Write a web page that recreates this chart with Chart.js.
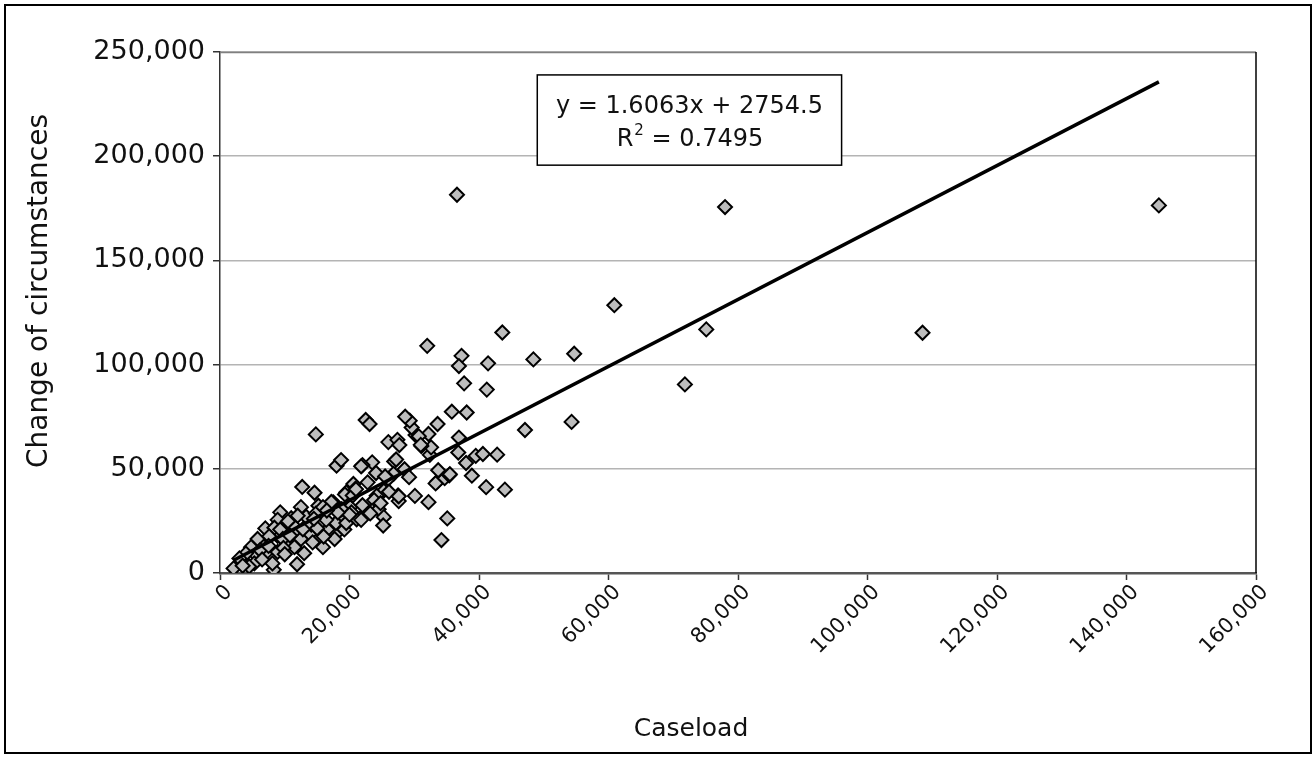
<!DOCTYPE html>
<html>
<head>
<meta charset="utf-8">
<title>Caseload vs change of circumstances</title>
<script src="https://cdn.jsdelivr.net/npm/chart.js@4.4.1/dist/chart.umd.min.js"></script>
<style>
  html, body { margin: 0; padding: 0; background: #fff; }
  #frame { position: absolute; left: 4px; top: 4px; width: 1304px; height: 746px; border: 2px solid #000; }
  #chart { position: absolute; left: 0; top: 0; }
</style>
</head>
<body>
<div id="frame"></div>
<canvas id="chart" width="1315" height="757"></canvas>
<script>
// caseload (x) and change of circumstances (y), one entry per office
var caseload = [
  145000, 78000, 36600, 75100, 108500, 71800, 60900, 43600, 54700, 48400,
  37300, 36900, 41400, 37700, 41200, 47100, 54300, 32000, 35800, 38100,
  36900, 38000, 39500, 40600, 42800, 36800, 41100, 44000, 38900, 35100,
  34200, 33600, 34700, 35400, 33700, 32200, 30100, 27600, 27500, 32400,
  32600, 31100, 32200, 33600, 30200, 29600, 29300, 28600, 22500, 23100,
  14800, 26000, 27400, 27700, 26900, 23500, 22000, 18000, 18700, 24100,
  28500, 26800, 26000, 25500, 27200, 22800, 20600, 20900, 19500, 25300,
  24200, 26100, 23800, 20100, 23500, 24500, 25300, 25200, 17500, 19100,
  22200, 22900, 21100, 17800, 17800, 18800, 23200, 12700, 14600, 15200,
  17300, 12500, 9300, 7000, 8900, 11900, 2100, 3800, 5600, 7000,
  8300, 8100, 5300, 4500, 6600, 8900, 10200, 11500, 11800, 13800,
  12500, 14300, 15900, 16600, 17700, 19200, 17900, 16400, 17200, 19300,
  20500, 21000, 20300, 21800, 22000, 13300, 11200, 14100, 11000, 8900,
  8400, 9300, 5800, 4800, 4000, 3000, 14800, 15900, 10500, 7600,
  9700, 21800, 13000, 35500, 33300, 27600, 30700, 31000, 6200, 7500,
  9800, 10800, 12800, 15000, 16000, 14500, 19500, 20000, 18200, 3500,
  6500, 10000, 24800, 29200, 16500, 12000
];
var circumstances = [
  176400, 175600, 181500, 116900, 115300, 90500, 128500, 115400, 105200, 102500,
  104200, 99300, 100600, 91000, 88000, 68600, 72500, 109000, 77400, 77000,
  65000, 52800, 56200, 57100, 56800, 57800, 41200, 40000, 46700, 26200,
  15800, 44000, 45500, 46900, 49300, 34000, 37000, 34500, 37200, 56700,
  60300, 60900, 66700, 71500, 66200, 69800, 73100, 75000, 73400, 71500,
  66500, 62800, 63900, 61400, 53500, 53100, 51800, 51500, 54200, 48000,
  49800, 47600, 45200, 46300, 54500, 43500, 42700, 40300, 38700, 39500,
  37100, 39000, 35000, 31600, 29800, 30600, 26800, 22800, 33900, 26600,
  27900, 29200, 25800, 23400, 18500, 30600, 28600, 41300, 38500, 32300,
  33700, 31600, 29100, 21400, 17800, 4200, 2200, 5400, 8500, 9300,
  1500, 4600, 4600, 3100, 13200, 10100, 14700, 12400, 19300, 18600,
  16300, 14700, 12400, 20900, 16300, 20900, 24000, 25500, 34100, 37700,
  37200, 40200, 29100, 25500, 32500, 27000, 23200, 23200, 26300, 25500,
  21700, 20900, 16300, 12400, 9300, 7000, 28500, 31600, 24800, 17600,
  16300, 51200, 9500, 47400, 43000, 36800, 65600, 61500, 11000, 13000,
  12000, 18000, 21000, 21500, 17500, 26000, 24000, 28000, 29000, 3500,
  6500, 9000, 33500, 46000, 30000, 27500
];

// linear trendline from the original workbook
var slope = 1.6063;
var intercept = 2754.5;
var rSquared = 0.7495;

var xTicksMax = 160000, xStep = 20000;
var yTicksMax = 250000, yStep = 50000;

var xMin = Math.min.apply(null, caseload);
var xMax = Math.max.apply(null, caseload);
var trend = [xMin, xMax].map(function(v) { return { x: v, y: slope * v + intercept }; });

var points = caseload.map(function(v, i) { return { x: v, y: circumstances[i] }; });

var FONT = '"DejaVu Sans", sans-serif';

function fmt(v) { return Number(v).toLocaleString('en-US'); }

// equation box, plot edges and axis titles
var extras = {
  id: 'extras',
  afterDraw: function(chart) {
    var ctx = chart.ctx, a = chart.chartArea;
    var sx = chart.scales.x, sy = chart.scales.y;
    ctx.save();
    ctx.strokeStyle = '#808080';
    ctx.lineWidth = 1.5;
    ctx.beginPath();
    ctx.moveTo(a.left, a.top + 0.5);
    ctx.lineTo(a.right, a.top + 0.5);
    ctx.stroke();
    ctx.strokeStyle = '#000';
    ctx.beginPath();
    ctx.moveTo(a.right, a.top);
    ctx.lineTo(a.right, a.bottom);
    ctx.stroke();

    // trendline label box
    var bx0 = sx.getPixelForValue(49000), bx1 = sx.getPixelForValue(96000);
    var by0 = sy.getPixelForValue(239000), by1 = sy.getPixelForValue(195700);
    ctx.fillStyle = '#fff';
    ctx.fillRect(bx0, by0, bx1 - bx0, by1 - by0);
    ctx.strokeStyle = '#000';
    ctx.lineWidth = 1.5;
    ctx.strokeRect(bx0, by0, bx1 - bx0, by1 - by0);

    var cx = (bx0 + bx1) / 2;
    ctx.fillStyle = '#111';
    ctx.font = '24px ' + FONT;
    ctx.textAlign = 'center';
    ctx.textBaseline = 'middle';
    ctx.fillText('y = ' + slope + 'x + ' + intercept, cx, by0 + 32);

    var rest = ' = ' + rSquared;
    var wR = ctx.measureText('R').width, wRest = ctx.measureText(rest).width;
    ctx.font = '15px ' + FONT;
    var w2 = ctx.measureText('2').width;
    var start = cx - (wR + w2 + wRest) / 2;
    var ly = by0 + 65;
    ctx.textAlign = 'left';
    ctx.font = '24px ' + FONT;
    ctx.fillText('R', start, ly);
    ctx.font = '15px ' + FONT;
    ctx.fillText('2', start + wR + 1, ly - 9);
    ctx.font = '24px ' + FONT;
    ctx.fillText(rest, start + wR + w2 + 1, ly);

    // axis titles
    ctx.textAlign = 'center';
    ctx.font = '25px ' + FONT;
    ctx.fillText('Caseload', 691, 729);
    ctx.translate(40, 291);
    ctx.rotate(-Math.PI / 2);
    ctx.font = '28px ' + FONT;
    ctx.fillText('Change of circumstances', 0, 0);
    ctx.restore();
  }
};

new Chart(document.getElementById('chart'), {
  type: 'scatter',
  data: {
    datasets: [
      {
        label: 'Change of circumstances',
        data: points,
        pointStyle: 'rectRot',
        pointRadius: 7,
        backgroundColor: '#bdbdbd',
        borderColor: '#000',
        borderWidth: 2,
        order: 2
      },
      {
        type: 'line',
        label: 'Linear trend',
        data: trend,
        borderColor: '#000',
        borderWidth: 3.5,
        pointRadius: 0,
        fill: false,
        order: 1
      }
    ]
  },
  options: {
    responsive: false,
    animation: false,
    layout: { padding: { left: 0, top: 52, right: 59, bottom: 0 } },
    plugins: {
      legend: { display: false },
      tooltip: { enabled: false }
    },
    scales: {
      x: {
        type: 'linear',
        min: 0,
        max: xTicksMax,
        afterFit: function(s) { s.height = 757 - 573; },
        ticks: {
          stepSize: xStep,
          maxRotation: 45,
          minRotation: 45,
          color: '#111',
          padding: 0,
          labelOffset: 9,
          font: { family: FONT, size: 21 },
          callback: function(v) { return fmt(v); }
        },
        grid: { drawOnChartArea: false, drawTicks: true, tickLength: 7, tickColor: '#333', tickWidth: 1.5 },
        border: { color: '#555', width: 2.5 }
      },
      y: {
        min: 0,
        max: yTicksMax,
        afterFit: function(s) { s.width = 220; },
        ticks: {
          stepSize: yStep,
          color: '#111',
          padding: 8,
          font: { family: FONT, size: 27 },
          callback: function(v) { return fmt(v); }
        },
        grid: { color: '#b4b4b4', lineWidth: 1.5, tickLength: 7, tickColor: '#333', tickWidth: 1.5 },
        border: { color: '#333', width: 1.5 }
      }
    }
  },
  plugins: [extras]
});
</script>
</body>
</html>
